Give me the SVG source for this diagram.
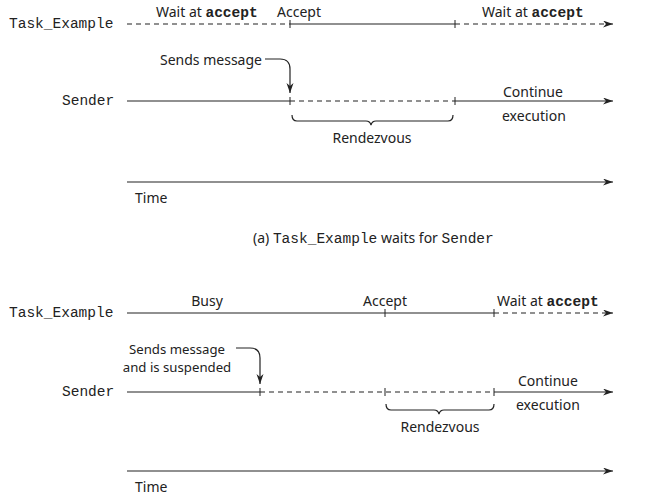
<svg xmlns="http://www.w3.org/2000/svg" width="661" height="500" viewBox="0 0 661 500">
<style>
.sans{font-family:"Noto Sans","Open Sans","DejaVu Sans",sans-serif;font-size:14px;fill:#222}
.mono{font-family:"Liberation Mono","Courier New",monospace;font-size:14.5px;fill:#222}
.b{font-weight:bold}
.ln{stroke:#222;stroke-width:1.2;fill:none}
.dash{stroke-dasharray:5 4}
.tick{stroke:#222;stroke-width:1}
.sm{font-size:13.2px}
</style>
<defs>
<marker id="arr" markerWidth="11" markerHeight="8" refX="10" refY="3.5" orient="auto" markerUnits="userSpaceOnUse">
<path d="M0,0 L10,3.5 L0,7 L3,3.5 z" fill="#222"/>
</marker>
</defs>
<rect width="661" height="500" fill="#fff"/>

<!-- (a) -->
<g id="a-task">
<text class="mono" x="9" y="28">Task_Example</text>
<text class="sans" x="156" y="17">Wait at <tspan class="mono b">accept</tspan></text>
<text class="sans" x="277" y="17">Accept</text>
<text class="sans" x="482" y="17">Wait at <tspan class="mono b">accept</tspan></text>
<line class="ln dash" x1="127" y1="24" x2="290" y2="24"/>
<line class="ln" x1="290" y1="24" x2="455" y2="24"/>
<line class="ln dash" x1="455" y1="24" x2="613" y2="24" marker-end="url(#arr)"/>
<line class="tick" x1="290" y1="20" x2="290" y2="28"/>
<line class="tick" x1="455" y1="20" x2="455" y2="28"/>
</g>
<g id="a-sender">
<text class="mono" x="62" y="105">Sender</text>
<text class="sans" x="160" y="65">Sends message</text>
<text class="sans" x="503" y="97">Continue</text>
<text class="sans" x="502" y="121">execution</text>
<text class="sans" x="372" y="143" text-anchor="middle">Rendezvous</text>
<line class="ln" x1="127" y1="101" x2="290" y2="101"/>
<line class="ln dash" x1="290" y1="101" x2="455" y2="101"/>
<line class="ln" x1="455" y1="101" x2="613" y2="101" marker-end="url(#arr)"/>
<line class="tick" x1="290" y1="97" x2="290" y2="105"/>
<line class="tick" x1="455" y1="97" x2="455" y2="105"/>
</g>
<g id="a-time">
<line class="ln" x1="127" y1="182" x2="613" y2="182" marker-end="url(#arr)"/>
<text class="sans" x="135" y="203">Time</text>
</g>
<g id="a-caption">
<text class="sans" x="253" y="243">(a) <tspan class="mono">Task_Example</tspan> waits for <tspan class="mono" fill="#555">Sender</tspan></text>
</g>

<!-- (b) -->
<g id="b-task">
<text class="mono" x="9" y="317">Task_Example</text>
<text class="sans" x="207" y="306" text-anchor="middle">Busy</text>
<text class="sans" x="363" y="306">Accept</text>
<text class="sans" x="497" y="306">Wait at <tspan class="mono b">accept</tspan></text>
<line class="ln" x1="127" y1="313" x2="494" y2="313"/>
<line class="ln dash" x1="494" y1="313" x2="613" y2="313" marker-end="url(#arr)"/>
<line class="tick" x1="385" y1="309" x2="385" y2="317"/>
<line class="tick" x1="494" y1="309" x2="494" y2="317"/>
</g>
<g id="b-sender">
<text class="mono" x="62" y="396">Sender</text>
<text class="sans sm" x="177" y="354" text-anchor="middle">Sends message</text>
<text class="sans sm" x="177" y="372" text-anchor="middle">and is suspended</text>
<text class="sans" x="518" y="386">Continue</text>
<text class="sans" x="516" y="410">execution</text>
<text class="sans" x="440" y="432" text-anchor="middle">Rendezvous</text>
<line class="ln" x1="127" y1="392" x2="260" y2="392"/>
<line class="ln dash" x1="260" y1="392" x2="494" y2="392"/>
<line class="ln" x1="494" y1="392" x2="613" y2="392" marker-end="url(#arr)"/>
<line class="tick" x1="260" y1="388" x2="260" y2="396"/>
<line class="tick" x1="385" y1="388" x2="385" y2="396"/>
<line class="tick" x1="494" y1="388" x2="494" y2="396"/>
</g>
<g id="b-time">
<line class="ln" x1="127" y1="471" x2="613" y2="471" marker-end="url(#arr)"/>
<text class="sans" x="135" y="492">Time</text>
</g>

<g id="connectors">
<path class="ln" d="M265,59 H280 Q290,59 290,69 V93" marker-end="url(#arr)"/>
<path class="ln" d="M292,115 Q292,121 297,121 H366 Q370,121 371,125 Q372,121 376,121 H448 Q453,121 453,115" stroke-width="1"/>
<path class="ln" d="M236,348 H250 Q260,348 260,358 V384" marker-end="url(#arr)"/>
<path class="ln" d="M386,404 Q386,410 391,410 H434 Q438,410 439,414 Q440,410 444,410 H489 Q494,410 494,404" stroke-width="1"/>
</g>
</svg>
